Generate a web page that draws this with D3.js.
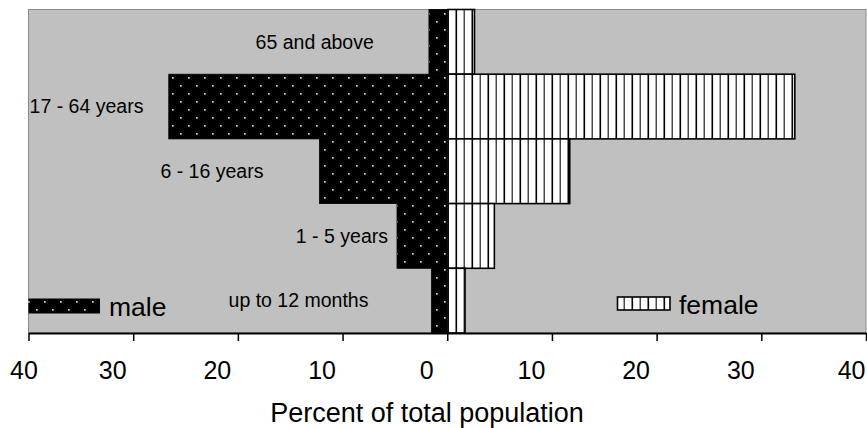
<!DOCTYPE html>
<html>
<head>
<meta charset="utf-8">
<script src="https://cdn.jsdelivr.net/npm/d3@7"></script>
<style>
  html, body { margin: 0; padding: 0; background: #ffffff; }
  svg { display: block; font-family: "Liberation Sans", Arial, sans-serif; }
</style>
</head>
<body>
<svg id="chart" width="867" height="428"></svg>
<script>
// Age groups, listed from the top of the pyramid down
const ageGroups = ["65 and above", "17 - 64 years", "6 - 16 years", "1 - 5 years", "up to 12 months"];
// Percent of total population in each age group
const maleValues = [1.75, 26.6, 12.2, 4.8, 1.5];
const femaleValues = [2.6, 33.2, 11.7, 4.5, 1.7];
// Axis ticks (percent, signed so men sit left of zero)
const tickValues = [-40, -30, -20, -10, 0, 10, 20, 30, 40];

// Where each age label sits, in axis units (label centre)
const labelCentres = [-12.66, -34.46, -22.48, -10.06, -14.21];

const W = 867, H = 428;
const plot = { left: 28.5, right: 866, top: 9.5, bottom: 333 };

const svg = d3.select("#chart");

const x = d3.scaleLinear().domain([-40, 40]).range([plot.left, plot.right]);
const y = d3.scaleBand().domain(ageGroups).range([plot.top, plot.bottom]).padding(0);

// Fill patterns: dotted black for male, vertical stripes for female
const defs = svg.append("defs");
const dots = defs.append("pattern")
  .attr("id", "maleFill").attr("patternUnits", "userSpaceOnUse")
  .attr("width", 16).attr("height", 16).attr("x", 1).attr("y", 2);
dots.append("rect").attr("width", 16).attr("height", 16).attr("fill", "#000");
dots.append("rect").attr("x", 3).attr("y", 3).attr("width", 1.7).attr("height", 1.7).attr("fill", "#dcdcdc");
dots.append("rect").attr("x", 11).attr("y", 11).attr("width", 1.7).attr("height", 1.7).attr("fill", "#dcdcdc");

const stripes = defs.append("pattern")
  .attr("id", "femaleFill").attr("patternUnits", "userSpaceOnUse")
  .attr("width", 16).attr("height", 16).attr("x", 449);
stripes.append("rect").attr("width", 16).attr("height", 16).attr("fill", "#fff");
stripes.append("rect").attr("x", 6.5).attr("width", 1.6).attr("height", 16).attr("fill", "#000");
stripes.append("rect").attr("x", 14.5).attr("width", 1.6).attr("height", 16).attr("fill", "#4a4a4a");

// Plot area
svg.append("rect")
  .attr("x", plot.left).attr("y", plot.top)
  .attr("width", plot.right - plot.left).attr("height", plot.bottom - plot.top)
  .attr("fill", "#c0c0c0").attr("stroke", "#8a8a8a").attr("stroke-width", 1);

// Male bars (extend left of zero)
svg.append("g").selectAll("rect")
  .data(ageGroups)
  .join("rect")
  .attr("x", (d, i) => x(-maleValues[i]))
  .attr("y", d => y(d))
  .attr("width", (d, i) => x(0) - x(-maleValues[i]))
  .attr("height", y.bandwidth())
  .attr("fill", "url(#maleFill)")
  .attr("stroke", "#000").attr("stroke-width", 0.8);

// Female bars (extend right of zero)
svg.append("g").selectAll("rect")
  .data(ageGroups)
  .join("rect")
  .attr("x", x(0) + 0.8)
  .attr("y", d => y(d))
  .attr("width", (d, i) => x(femaleValues[i]) - x(0) - 0.8)
  .attr("height", y.bandwidth())
  .attr("fill", "url(#femaleFill)")
  .attr("stroke", "#000").attr("stroke-width", 1.6);

// Age group labels
svg.append("g").selectAll("text")
  .data(ageGroups)
  .join("text")
  .attr("x", (d, i) => x(labelCentres[i]))
  .attr("y", d => y(d) + y.bandwidth() / 2)
  .attr("dy", "0.35em")
  .attr("text-anchor", "middle")
  .attr("font-size", 19.5)
  .attr("fill", "#000")
  .text(d => d);

// Bottom axis; tick labels sit a little left of their ticks
const axis = d3.axisBottom(x)
  .tickValues(tickValues)
  .tickFormat(d => Math.abs(d))
  .tickSize(8)
  .tickPadding(20)
  .tickSizeOuter(0);
const gAxis = svg.append("g")
  .attr("transform", `translate(0,${plot.bottom})`)
  .call(axis);
gAxis.select(".domain").attr("stroke", "#000").attr("stroke-width", 2);
gAxis.selectAll(".tick line").attr("stroke", "#000").attr("stroke-width", 1.5);
gAxis.selectAll(".tick text")
  .attr("font-size", 25)
  .attr("font-family", "'Liberation Sans', Arial, sans-serif")
  .attr("fill", "#000")
  .attr("dx", -21);
// keep the end labels inside the chart
gAxis.selectAll(".tick text")
  .filter(d => d === tickValues[0])
  .attr("text-anchor", "start")
  .attr("dx", -19);
gAxis.selectAll(".tick text")
  .filter(d => d === tickValues[tickValues.length - 1])
  .attr("text-anchor", "end")
  .attr("dx", -1);

// Axis title
svg.append("text")
  .attr("x", 427).attr("y", 422)
  .attr("text-anchor", "middle")
  .attr("font-size", 27)
  .attr("fill", "#000")
  .text("Percent of total population");

// Legend
const legend = svg.append("g");
legend.append("rect")
  .attr("x", 28.5).attr("y", 298.5).attr("width", 71.5).attr("height", 15)
  .attr("fill", "url(#maleFill)");
legend.append("text")
  .attr("x", 109).attr("y", 306.5).attr("dy", "0.35em")
  .attr("font-size", 26.5).attr("fill", "#000")
  .text("male");
legend.append("rect")
  .attr("x", 617.5).attr("y", 297).attr("width", 52.5).attr("height", 13)
  .attr("fill", "url(#femaleFill)")
  .attr("stroke", "#000").attr("stroke-width", 1.6);
legend.append("text")
  .attr("x", 679).attr("y", 304.5).attr("dy", "0.35em")
  .attr("font-size", 26.5).attr("fill", "#000")
  .text("female");
</script>
</body>
</html>
